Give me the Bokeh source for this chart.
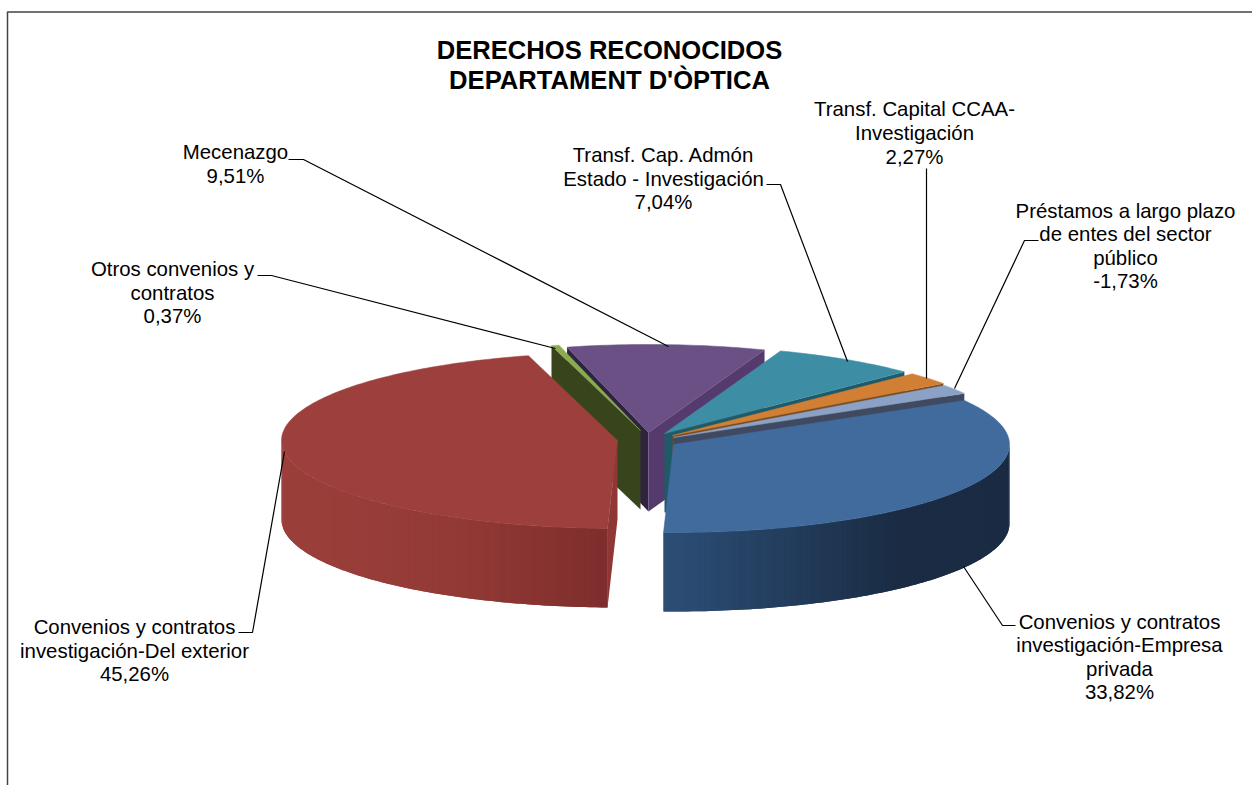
import math
from bokeh.plotting import figure
from bokeh.models import Range1d
from bokeh.core.properties import value
from bokeh.embed import file_html
from bokeh.resources import INLINE

# ---- data ----
categories = ["Convenios y contratos\ninvestigación-Empresa\nprivada",
              "Convenios y contratos\ninvestigación-Del exterior",
              "Otros convenios y\ncontratos",
              "Mecenazgo",
              "Transf. Cap. Admón\nEstado - Investigación",
              "Transf. Capital CCAA-\nInvestigación",
              "Préstamos a largo plazo\nde entes del sector\npúblico"]
percent = [33.82, 45.26, 0.37, 9.51, 7.04, 2.27, -1.73]
title_lines = ["DERECHOS RECONOCIDOS", "DEPARTAMENT D'ÒPTICA"]

# ---- styling / layout (page pixels) ----
top_col = ["#416A9D", "#9D403D", "#8AAB4E", "#6A5085", "#3D8EA4", "#D17F34", "#8BA1C6"]
begin_wall = ["#2B4C73", "#8E3734", "#38451C", "#2F2440", "#1F4F5E", "#7A4A1E", "#3F4A60"]
end_wall = ["#2B4C73", "#8E3734", "#38451C", "#553A6E", "#1F5A68", "#7A4A1E", "#3F4A60"]
grad = {0: [(663, (0x2C, 0x4E, 0x76)), (800, (0x22, 0x3B, 0x5A)), (900, (0x1A, 0x2B, 0x43)), (1010, (0x1A, 0x2B, 0x43))],
        1: [(281, (0x9B, 0x3F, 0x3B)), (450, (0x94, 0x3A, 0x36)), (607, (0x7D, 0x2E, 0x2D))]}
apex = [(673, 444), (617, 440), (640, 430), (648, 432), (664, 433), (672, 435), (673, 437)]
RX, RY, DEPTH = 336, 88, 79
first_angle = 59.95
draw_order = [3, 4, 5, 6, 0, 2, 1]

label_xy = [(1119, 656.5), (134, 650), (172, 292), (235, 163.5), (663, 178), (914, 132.5), (1125, 245.5)]
LINE_H = 23.6
leaders = [([1015, 1002, 963], [625, 625, 566]),
           ([238, 252, 284], [632, 632, 451]),
           ([257, 271, 555], [275, 275, 348]),
           ([288, 303, 668], [159, 159, 346]),
           ([766, 780, 847], [184, 184, 361]),
           ([926, 926], [168, 378]),
           ([1038, 1024, 954], [240, 240, 388])]

W, H = 1252, 785
p = figure(width=W, height=H, x_range=Range1d(0, W), y_range=Range1d(H, 0),
           toolbar_location=None, output_backend="svg", min_border=0, outline_line_color=None)
p.axis.visible = False
p.grid.visible = False
p.background_fill_color = "white"
p.border_fill_color = "white"

# chart frame
p.line([7, 7, 1252], [785, 11.5, 11.5], line_color="#444444", line_width=1.5)


def pt(c, a):
    r = math.radians(a)
    return c[0] + RX * math.sin(r), c[1] - RY * math.cos(r)


def mix(stops, x):
    if x <= stops[0][0]:
        return stops[0][1]
    for (x0, c0), (x1, c1) in zip(stops, stops[1:]):
        if x <= x1:
            t = (x - x0) / (x1 - x0)
            return tuple(round(a + (b - a) * t) for a, b in zip(c0, c1))
    return stops[-1][1]


# slice angles from the values
spans = [abs(v) * 3.6 for v in percent]
starts = []
a = first_angle
for s in spans:
    starts.append(a)
    a += s

for i in draw_order:
    a0, a1 = starts[i], starts[i] + spans[i]
    c = apex[i]
    # cut faces
    if 180 < a0 % 360 < 360:
        r = pt(c, a0)
        p.patch([c[0], r[0], r[0], c[0]], [c[1], r[1], r[1] + DEPTH, c[1] + DEPTH],
                fill_color=begin_wall[i], line_color=None)
    if 0 < a1 % 360 < 180:
        r = pt(c, a1)
        p.patch([c[0], r[0], r[0], c[0]], [c[1], r[1], r[1] + DEPTH, c[1] + DEPTH],
                fill_color=end_wall[i], line_color=None)
    # outer wall, front part of the rim only; strips overlap so no seams show
    lo, hi = max(a0, 90), min(a1, 270)
    if hi > lo and i in grad:
        n = int(hi - lo) + 1
        order = range(n) if i == 0 else range(n - 1, -1, -1)
        for k in order:
            b0 = lo + (hi - lo) * k / n
            b1 = lo + (hi - lo) * (k + 1) / n
            if i == 0:
                arc = [pt(c, b0), pt(c, b1), pt(c, min(b1 + 1, hi))]
            else:
                arc = [pt(c, max(b0 - 1, lo)), pt(c, b0), pt(c, b1)]
            xs = [q[0] for q in arc] + [q[0] for q in reversed(arc)]
            ys = [q[1] for q in arc] + [q[1] + DEPTH for q in reversed(arc)]
            rgb = mix(grad[i], (pt(c, b0)[0] + pt(c, b1)[0]) / 2)
            p.patch(xs, ys, fill_color="#%02X%02X%02X" % rgb, line_color=None)
    # top face
    n = max(2, int(spans[i]))
    rim = [pt(c, a0 + (a1 - a0) * k / n) for k in range(n + 1)]
    p.patch([c[0]] + [q[0] for q in rim], [c[1]] + [q[1] for q in rim],
            fill_color=top_col[i], line_color=top_col[i], line_width=0.5)

# leader lines
for xs, ys in leaders:
    p.line(xs, ys, line_color="black", line_width=1.2)

# labels
for name, v, (x, y) in zip(categories, percent, label_xy):
    pct = f"{v:.2f}%".replace(".", ",")
    lines = name.split("\n") + [pct]
    y0 = y - LINE_H * (len(lines) - 1) / 2
    p.text([x] * len(lines), [y0 + LINE_H * k for k in range(len(lines))], text=lines,
           text_font=value("Liberation Sans"), text_font_size="20.4px", text_color="black",
           text_align="center", text_baseline="middle")

p.text([609, 609], [49, 79], text=title_lines, text_font=value("Liberation Sans"),
       text_font_style="bold", text_font_size="25.6px", text_color="black",
       text_align="center", text_baseline="middle")

open("out.html", "w").write(file_html(p, INLINE))
